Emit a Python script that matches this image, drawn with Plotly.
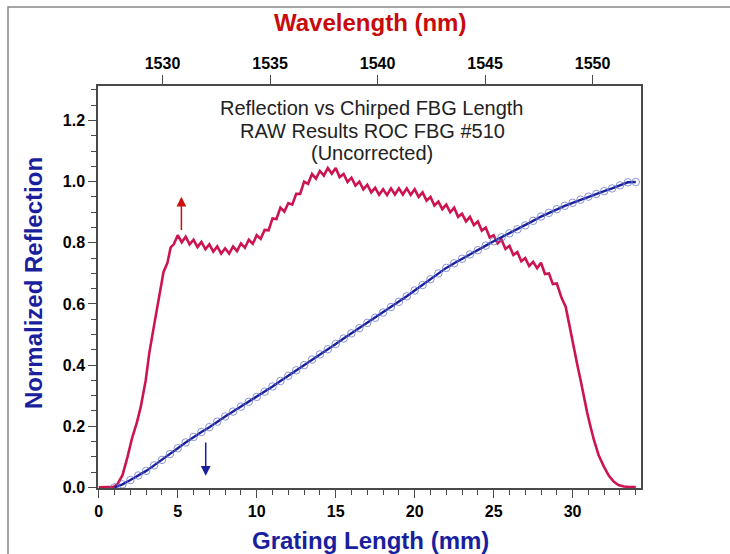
import plotly.graph_objects as go

# Reflection vs grating length (mm)
red_x = [0, 0.5, 0.95, 1.2, 1.5, 1.82, 2.1, 2.4, 2.66, 2.97, 3.2, 3.5, 3.71, 3.9, 4.1, 4.35, 4.55, 4.75,
         5.0, 5.25, 5.5, 5.75, 6.0, 6.25, 6.5, 6.75, 7.0, 7.25, 7.5, 7.75, 8.0, 8.25, 8.5, 8.75,
         9.0, 9.25, 9.5, 9.75, 10.0, 10.25, 10.5, 10.75, 11.0, 11.25, 11.5, 11.75, 12.0, 12.25, 12.5, 12.75,
         13.0, 13.25, 13.5, 13.75, 14.0, 14.25, 14.5, 14.75, 15.0, 15.25, 15.5, 15.75, 16.0, 16.25, 16.5, 16.75,
         17.0, 17.25, 17.5, 17.75, 18.0, 18.25, 18.5, 18.75, 19.0, 19.25, 19.5, 19.75, 20.0, 20.25, 20.5, 20.75,
         21.0, 21.25, 21.5, 21.75, 22.0, 22.25, 22.5, 22.75, 23.0, 23.25, 23.5, 23.75, 24.0, 24.25, 24.5, 24.75,
         25.0, 25.25, 25.5, 25.75, 26.0, 26.25, 26.5, 26.75, 27.0, 27.25, 27.5, 27.75, 28.0, 28.25, 28.5, 28.75,
         29.0, 29.3, 29.56, 29.8, 30.08, 30.3, 30.5, 30.7, 30.93, 31.15, 31.35, 31.65, 31.98, 32.3, 32.6, 32.9,
         33.25, 33.6, 34.0]
red_y = [0.0, 0.0, 0.002, 0.012, 0.04, 0.10, 0.16, 0.21, 0.264, 0.35, 0.44, 0.53, 0.59, 0.655, 0.705, 0.735, 0.785, 0.795,
         0.825, 0.802, 0.820, 0.795, 0.810, 0.786, 0.803, 0.779, 0.795, 0.771, 0.788, 0.765, 0.782, 0.765, 0.788, 0.773,
         0.798, 0.784, 0.810, 0.797, 0.825, 0.813, 0.842, 0.841, 0.880, 0.878, 0.915, 0.902, 0.930, 0.925, 0.960, 0.960,
         1.000, 0.993, 1.025, 1.010, 1.035, 1.020, 1.045, 1.026, 1.045, 1.015, 1.025, 0.999, 1.013, 0.987, 1.000, 0.975,
         0.990, 0.965, 0.980, 0.957, 0.975, 0.956, 0.978, 0.958, 0.978, 0.958, 0.978, 0.957, 0.975, 0.950, 0.965, 0.938,
         0.950, 0.922, 0.935, 0.910, 0.925, 0.900, 0.915, 0.885, 0.895, 0.870, 0.885, 0.858, 0.870, 0.840, 0.850, 0.818,
         0.825, 0.798, 0.810, 0.780, 0.790, 0.760, 0.770, 0.740, 0.750, 0.724, 0.738, 0.717, 0.735, 0.698, 0.700, 0.665,
         0.667, 0.62, 0.591, 0.53, 0.45, 0.40, 0.352, 0.295, 0.243, 0.195, 0.155, 0.105, 0.068, 0.038, 0.019, 0.008,
         0.003, 0.001, 0.001]

# Normalized wavelength position vs grating length (mm)
blue_x = [1.0, 1.5, 2.0, 2.5, 3.0, 3.5, 4.0, 4.5, 5.0, 5.5, 6.0, 6.5, 7.0, 7.5, 8.0, 8.5, 9.0, 9.5,
          10.0, 10.5, 11.0, 11.5, 12.0, 12.5, 13.0, 13.5, 14.0, 14.5, 15.0, 15.5, 16.0, 16.5, 17.0, 17.5,
          18.0, 18.5, 19.0, 19.5, 20.0, 20.5, 21.0, 21.5, 22.0, 22.5, 23.0, 23.5, 24.0, 24.5, 25.0, 25.5,
          26.0, 26.5, 27.0, 27.5, 28.0, 28.5, 29.0, 29.5, 30.0, 30.5, 31.0, 31.5, 32.0, 32.5, 33.0, 33.5, 34.0]
blue_y = [0.000, 0.010, 0.024, 0.039, 0.054, 0.072, 0.090, 0.109, 0.128, 0.147, 0.165, 0.181, 0.197, 0.215,
          0.232, 0.248, 0.264, 0.280, 0.296, 0.313, 0.330, 0.348, 0.365, 0.383, 0.400, 0.418, 0.435, 0.452,
          0.469, 0.487, 0.504, 0.521, 0.538, 0.555, 0.572, 0.590, 0.607, 0.625, 0.644, 0.662, 0.681, 0.700,
          0.718, 0.733, 0.748, 0.762, 0.776, 0.791, 0.805, 0.818, 0.831, 0.844, 0.857, 0.872, 0.886, 0.898,
          0.910, 0.921, 0.931, 0.941, 0.951, 0.960, 0.969, 0.978, 0.988, 0.998, 0.999]

x_ticks = [0, 5, 10, 15, 20, 25, 30]
y_ticks = [0.0, 0.2, 0.4, 0.6, 0.8, 1.0, 1.2]
wl_ticks = [1530, 1535, 1540, 1545, 1550]
wl_range = [1527.0, 1552.25]

title_lines = ["Reflection vs Chirped FBG Length", "RAW Results ROC FBG #510", "(Uncorrected)"]

RED = "#cc1450"
BLUE = "#1a1f9e"
AXC = "#4a4a4a"
FONT = "Liberation Sans"

fig = go.Figure()
fig.add_trace(go.Scatter(x=red_x, y=red_y, mode="lines",
                         line=dict(color=RED, width=2.6), showlegend=False, hoverinfo="skip"))
fig.add_trace(go.Scatter(x=blue_x, y=blue_y, mode="lines+markers",
                         line=dict(color=BLUE, width=2.4),
                         marker=dict(symbol="circle-open", size=7.5, color="rgba(110,120,200,0.8)",
                                     line=dict(width=1)),
                         showlegend=False, hoverinfo="skip"))
# invisible trace to carry the wavelength axis
fig.add_trace(go.Scatter(x=wl_range, y=[0, 0], xaxis="x2", mode="lines",
                         line=dict(width=0), opacity=0, showlegend=False, hoverinfo="skip"))

tickfont = dict(family=FONT, size=16, color="black", weight="bold")

fig.update_layout(
    width=730, height=554,
    margin=dict(l=98, r=89, t=86, b=66),
    paper_bgcolor="white", plot_bgcolor="white",
    hovermode=False,
    xaxis=dict(range=[-0.05, 34.33], tickvals=x_ticks, ticks="outside", ticklen=8, tickwidth=1.3,
               tickcolor=AXC, showline=True, linecolor=AXC, linewidth=1.5, mirror=True,
               showgrid=False, zeroline=False, tickfont=tickfont,
               minor=dict(dtick=1, tick0=0, ticks="outside", ticklen=5, tickcolor=AXC, tickwidth=1.2)),
    xaxis2=dict(overlaying="x", side="top", anchor="y", range=wl_range, tickvals=wl_ticks,
                ticks="outside", ticklen=10, tickwidth=1.3, tickcolor=AXC, showline=False,
                showgrid=False, zeroline=False, tickfont=tickfont),
    yaxis=dict(range=[-0.002, 1.313], tickvals=y_ticks, tickformat=".1f", ticks="outside", ticklen=8,
               tickwidth=1.3, tickcolor=AXC, showline=True, linecolor=AXC, linewidth=1.5, mirror=True,
               showgrid=False, zeroline=False, tickfont=tickfont,
               minor=dict(dtick=0.05, tick0=0, ticks="outside", ticklen=5, tickcolor=AXC, tickwidth=1.2)),
)

annotations = []
# axis titles
annotations.append(dict(text="Grating Length (mm)", xref="paper", yref="paper", x=(370 - 98) / 543,
                        y=(488 - 540) / 402, xanchor="center", yanchor="middle", showarrow=False,
                        font=dict(family=FONT, size=24, color=BLUE, weight="bold")))
annotations.append(dict(text="Normalized Reflection", xref="paper", yref="paper", x=(33 - 98) / 543,
                        y=(488 - 283) / 402, xanchor="center", yanchor="middle", showarrow=False,
                        textangle=-90, font=dict(family=FONT, size=24, color=BLUE, weight="bold")))
annotations.append(dict(text="Wavelength (nm)", xref="paper", yref="paper", x=(370 - 98) / 543,
                        y=(488 - 22) / 402, xanchor="center", yanchor="middle", showarrow=False,
                        font=dict(family=FONT, size=24, color="#c80a0a", weight="bold")))
# chart title lines
for line, py in zip(title_lines, [108, 131, 153]):
    annotations.append(dict(text=line, xref="paper", yref="paper", x=(372 - 98) / 543,
                            y=(488 - py) / 402, xanchor="center", yanchor="middle", showarrow=False,
                            font=dict(family=FONT, size=20, color="#222222")))
# arrows
annotations.append(dict(x=5.23, y=0.951, ax=5.23, ay=0.837, xref="x", yref="y", axref="x", ayref="y",
                        text="", showarrow=True, arrowhead=2, arrowsize=1.3, arrowwidth=1.5,
                        arrowcolor="#cc1010"))
annotations.append(dict(x=6.77, y=0.038, ax=6.77, ay=0.152, xref="x", yref="y", axref="x", ayref="y",
                        text="", showarrow=True, arrowhead=2, arrowsize=1.3, arrowwidth=1.5,
                        arrowcolor=BLUE))
fig.update_layout(annotations=annotations)

# outer frame
fig.add_shape(type="rect", xref="paper", yref="paper",
              x0=(8 - 98) / 543, x1=(740 - 98) / 543, y0=(488 - 570) / 402, y1=(488 - 7) / 402,
              line=dict(color="#888888", width=1.5), fillcolor="rgba(0,0,0,0)", layer="below")

fig.write_html("out.html", config={"displayModeBar": False},
               post_script="document.body.style.margin='0px';")
